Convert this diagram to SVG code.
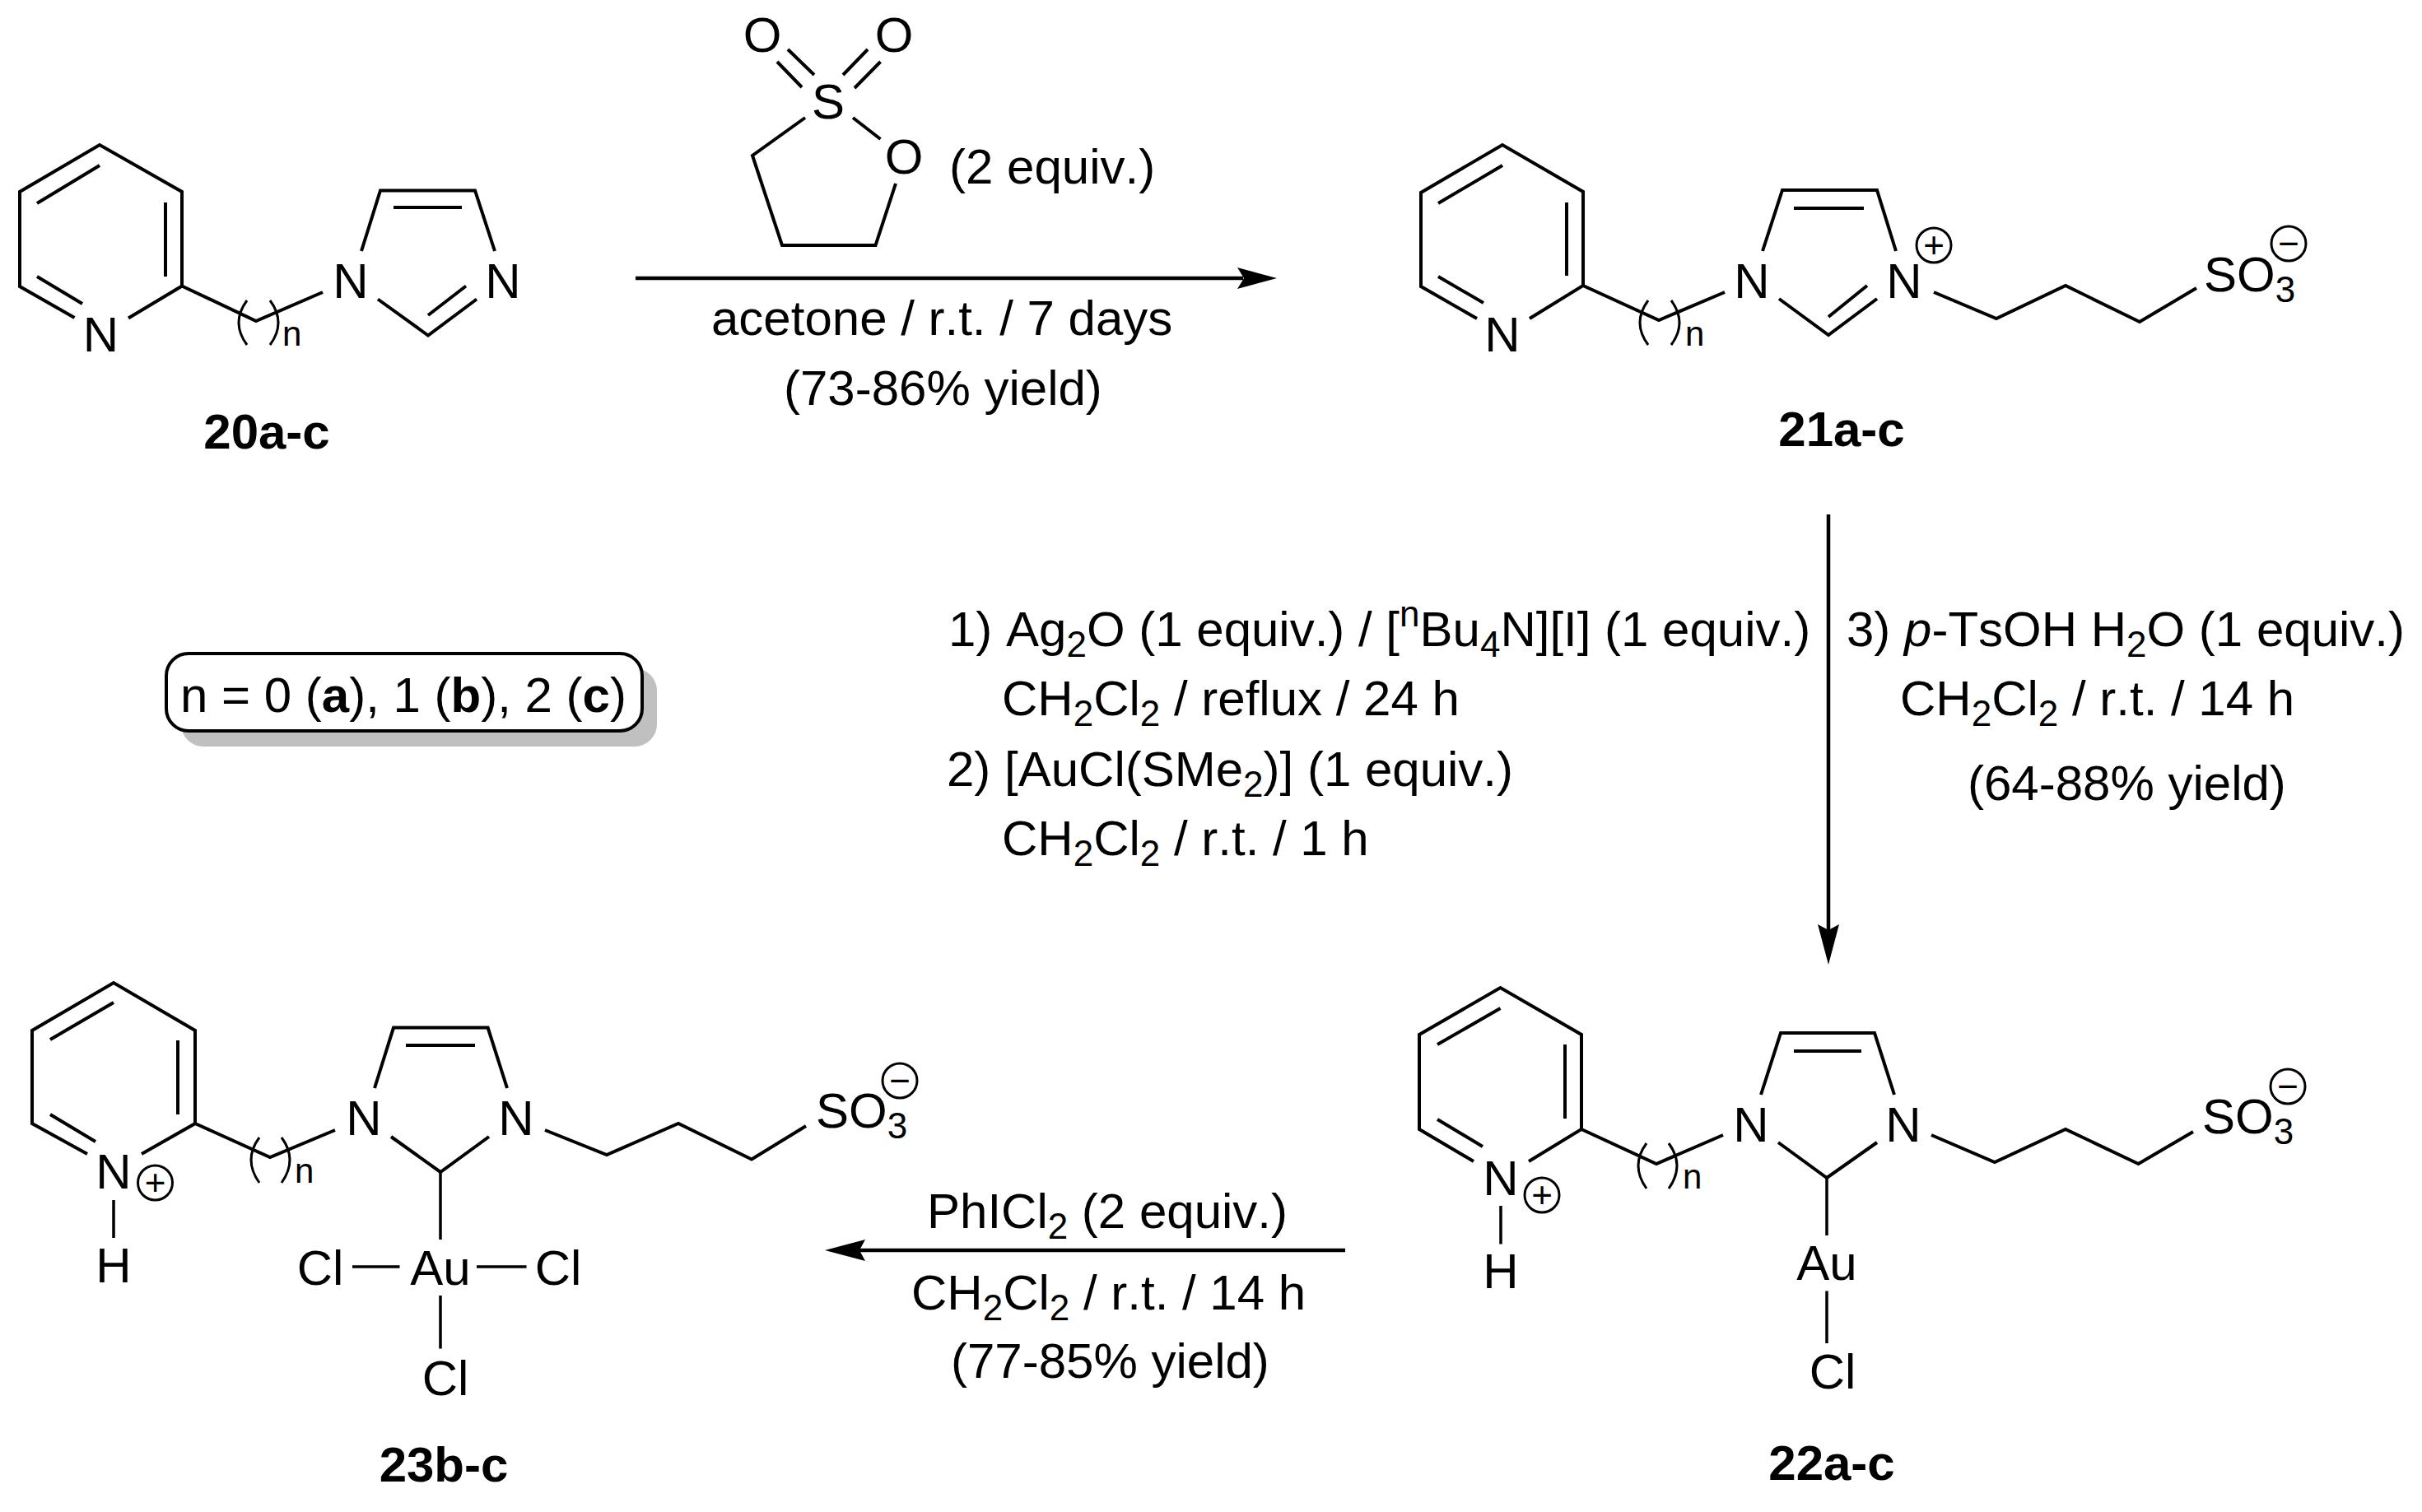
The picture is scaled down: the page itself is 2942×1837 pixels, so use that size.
<svg xmlns="http://www.w3.org/2000/svg" width="2942" height="1837" viewBox="0 0 2942 1837">
<style>
text{font-family:"Liberation Sans",Arial,sans-serif;fill:#000;font-kerning:none}
.t{font-size:60px}
.a{font-size:60px;text-anchor:middle}
.so{font-size:60px}
.l{font-size:60px;font-weight:bold;text-anchor:middle}
.n{font-size:42px}
.q{font-size:44px;text-anchor:middle}
.sub{font-size:44px;baseline-shift:-13px}
.sup{font-size:44px;baseline-shift:24px}
.b{font-weight:bold}
.i{font-style:italic}
.bond{fill:none;stroke:#000;stroke-width:4;stroke-linejoin:miter}
.paren{fill:none;stroke:#000;stroke-width:3}
.ch{fill:none;stroke:#000;stroke-width:3}
.conn{fill:none;stroke:#000;stroke-width:4.5}
.head{fill:#000}
</style>
<rect width="2942" height="1837" fill="#fff"/>

<g id="compound-20a-c">
<path class="bond" d="M90.5 386L24 348V233L121 176L221 233V347.5L156 386.5M45 247L121 201M201 246V336M45 336L100 369M221 347.5L311 390L392 355M439 305L462 231.5H577L601 305M478 252H561M459 363.5L520 407.5L579 363.5M520 383L566 347.5"/>
<path class="paren" d="M300 365Q280 392 300 419M328 365Q348 392 328 419"/>
<text class="a" x="122.5" y="427">N</text><text class="a" x="426" y="362">N</text><text class="a" x="611" y="362">N</text>
<text class="n" x="343" y="420">n</text>
<text class="l" x="324" y="545">20a-c</text>
</g>

<g id="sultone-reagent">
<path class="bond" d="M957 60L989 91M944 75L974 106M1054 60L1024 91M1069.5 75L1038 107M978 143L914 189L950 298H1063.5L1088 223M1036 143L1069.5 169"/>
<text class="a" x="926" y="63">O</text><text class="a" x="1086" y="63">O</text><text class="a" x="1006" y="144">S</text><text class="a" x="1098" y="211">O</text>
<text class="t" x="1153" y="223">(2 equiv.)</text>
</g>

<g id="compound-21a-c">
<path class="bond" d="M1794 387L1726 348V234L1825 176L1923 233V347L1858 387M1747 247L1825 201M1903 246V335M1747 336L1802 368M1923 347L2015 389L2095 355M2141 305L2165 231H2280L2303 305M2179 253H2264M2161 363L2221 407L2280 363M2221 385L2268 347M2349 355L2425 387L2509 347L2599 391L2668 350"/>
<path class="paren" d="M2002 365Q1982 392 2002 419M2030 365Q2050 392 2030 419"/>
<text class="a" x="1825" y="427">N</text><text class="a" x="2128" y="362">N</text><text class="a" x="2313" y="362">N</text>
<text class="n" x="2047" y="420">n</text>
<circle class="ch" cx="2349" cy="298" r="21"/><text class="q" x="2349" y="313">+</text>
<text class="so" x="2677" y="354">SO<tspan class="sub">3</tspan></text>
<circle class="ch" cx="2780" cy="296" r="21"/><text class="q" x="2780" y="311">−</text>
<text class="l" x="2237" y="542">21a-c</text>
</g>

<g id="compound-22a-c">
<path class="bond" d="M1790 1411L1724 1372V1257L1822.5 1200L1921 1257V1372L1857 1411M1746 1269L1822.5 1225M1901 1269V1359M1746 1360L1801 1393M1921 1372L2012 1414L2093 1379M2139 1330L2163 1255H2277L2301 1330M2179 1277H2261M2160 1388L2219 1431L2280 1388M2346 1379L2423 1412L2509 1372L2597.5 1414L2664 1375"/>
<path class="bond" style="stroke-width:3.5" d="M1823 1465V1511.5M2219 1431V1501M2219 1568.5V1632"/>
<path class="paren" d="M2000 1389Q1980 1416 2000 1444M2027 1389Q2047 1416 2027 1444"/>
<text class="a" x="1823" y="1451.5">N</text><text class="a" x="1823" y="1565">H</text><text class="a" x="2127" y="1387">N</text><text class="a" x="2312" y="1387">N</text>
<text class="n" x="2044" y="1444">n</text>
<circle class="ch" cx="1873" cy="1452" r="21"/><text class="q" x="1873" y="1467">+</text>
<text class="so" x="2675" y="1377">SO<tspan class="sub">3</tspan></text>
<circle class="ch" cx="2779" cy="1320" r="21"/><text class="q" x="2779" y="1335">−</text>
<text class="a" x="2219" y="1555">Au</text><text class="a" x="2226" y="1687">Cl</text>
<text class="l" x="2225" y="1798">22a-c</text>
</g>

<g id="compound-23b-c">
<path class="bond" d="M106 1402L39 1365V1252L138 1194L237 1252V1365L172 1402M61 1263L138 1218M216 1264V1354M61 1354L116 1387M237 1365L328 1406L407 1373M455 1322L478 1248.6H592.6L616 1322M493 1270H577M475 1381L535 1424L594 1381M662 1373L737 1403L824 1365L913 1408.5L979 1368"/>
<path class="bond" style="stroke-width:3.5" d="M138 1458V1504M535 1424V1506M428 1539H485.5M579 1539H639.5M535 1574V1638.6"/>
<path class="paren" d="M315 1382Q295 1409 315 1437M342 1382Q362 1409 342 1437"/>
<text class="a" x="138" y="1444">N</text><text class="a" x="138" y="1557.5">H</text><text class="a" x="442" y="1379">N</text><text class="a" x="627" y="1379">N</text>
<text class="n" x="358" y="1437">n</text>
<circle class="ch" cx="188.5" cy="1437" r="21"/><text class="q" x="188.5" y="1452">+</text>
<text class="so" x="991" y="1370">SO<tspan class="sub">3</tspan></text>
<circle class="ch" cx="1093" cy="1313" r="21"/><text class="q" x="1093" y="1328">−</text>
<text class="a" x="535" y="1561">Au</text><text class="a" x="389" y="1561">Cl</text><text class="a" x="678" y="1561">Cl</text><text class="a" x="541" y="1695">Cl</text>
<text class="l" x="539" y="1800">23b-c</text>
</g>

<g id="note-n-values">
<rect x="220" y="812" width="578" height="95" rx="27" fill="#c0c0c0"/>
<rect x="202" y="794" width="578" height="94" rx="27" fill="#fff" stroke="#000" stroke-width="4"/>
<text class="t" x="219" y="865">n = 0 (<tspan class="b">a</tspan>), 1 (<tspan class="b">b</tspan>), 2 (<tspan class="b">c</tspan>)</text>
</g>

<g id="conditions">
<text class="t" x="864" y="407">acetone / r.t. / 7 days</text>
<text class="t" x="952" y="492">(73-86% yield)</text>
<text class="t" x="1152" y="785">1) Ag<tspan class="sub">2</tspan>O (1 equiv.) / [<tspan class="sup">n</tspan>Bu<tspan class="sub">4</tspan>N][I] (1 equiv.)</text>
<text class="t" x="1217" y="869">CH<tspan class="sub">2</tspan>Cl<tspan class="sub">2</tspan> / reflux / 24 h</text>
<text class="t" x="1150" y="955">2) [AuCl(SMe<tspan class="sub">2</tspan>)] (1 equiv.)</text>
<text class="t" x="1217" y="1039">CH<tspan class="sub">2</tspan>Cl<tspan class="sub">2</tspan> / r.t. / 1 h</text>
<text class="t" x="2243" y="785">3) <tspan class="i">p</tspan>-TsOH H<tspan class="sub">2</tspan>O (1 equiv.)</text>
<text class="t" x="2308" y="869">CH<tspan class="sub">2</tspan>Cl<tspan class="sub">2</tspan> / r.t. / 14 h</text>
<text class="t" x="2390" y="972">(64-88% yield)</text>
<text class="t" x="1126" y="1492">PhICl<tspan class="sub">2</tspan> (2 equiv.)</text>
<text class="t" x="1107" y="1591">CH<tspan class="sub">2</tspan>Cl<tspan class="sub">2</tspan> / r.t. / 14 h</text>
<text class="t" x="1155" y="1674">(77-85% yield)</text>
</g>

<g id="connectors">
<path class="conn" d="M772 338H1510"/><path class="head" d="M1551 338L1503 325L1511 338L1503 351Z"/>
<path class="conn" d="M2221 625V1130"/><path class="head" d="M2221 1172L2208 1123L2221 1130L2234 1123Z"/>
<path class="conn" d="M1634 1519H1044"/><path class="head" d="M1002 1519L1051 1506L1044 1519L1051 1532Z"/>
</g>
</svg>
